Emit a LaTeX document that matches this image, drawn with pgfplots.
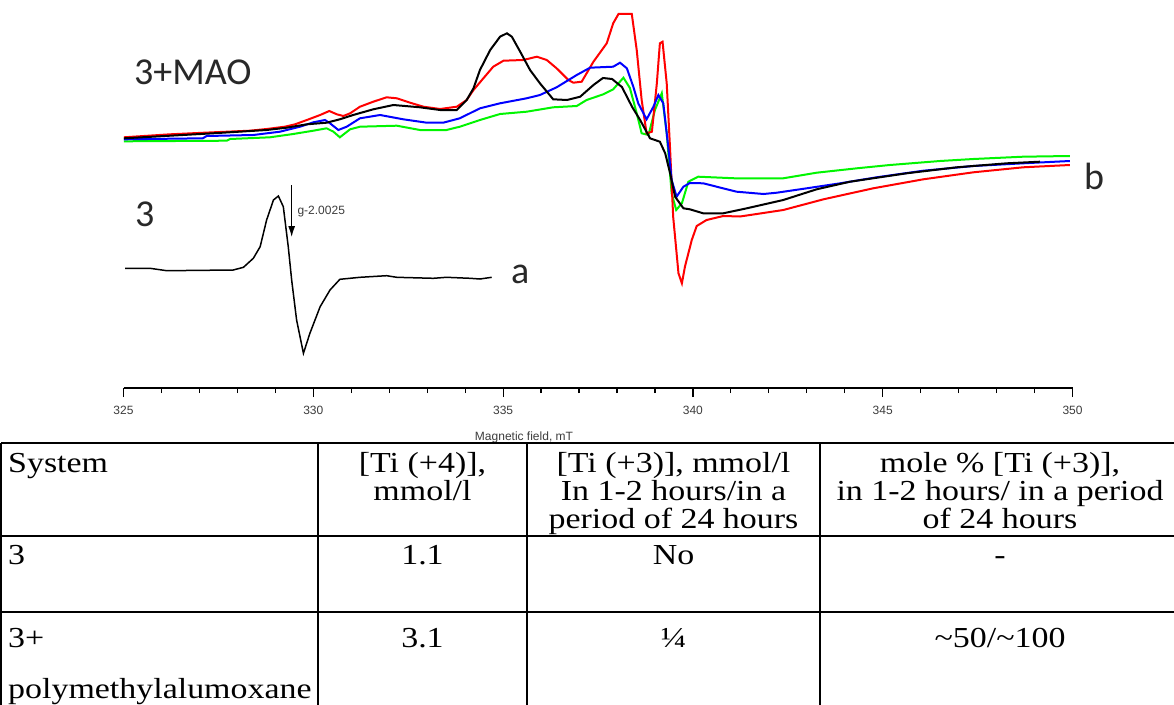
\documentclass[border=0pt]{standalone}
\usepackage{pgfplots}
\pgfplotsset{compat=1.18}
\usepackage{fontspec}
\setmainfont{Liberation Sans}
\newfontfamily\lblfont{Carlito}
\newfontfamily\tabfont[FakeStretch=1.17]{Liberation Serif}
\usetikzlibrary{arrows.meta}
\definecolor{eprred}{RGB}{255,0,0}
\definecolor{eprblue}{RGB}{0,0,255}
\definecolor{eprgreen}{RGB}{0,245,0}
\definecolor{lblgray}{RGB}{40,40,40}
\definecolor{tickgray}{RGB}{60,60,60}
\begin{document}
\begin{tikzpicture}
\useasboundingbox (0pt,0pt) rectangle (1174pt,-704pt);
\begin{axis}[
  at={(123.5pt,-388pt)}, anchor=south west,
  scale only axis, width=949pt, height=388pt,
  xmin=325, xmax=350, ymin=0, ymax=388,
  axis x line=bottom, axis y line=none,
  axis line style={-, line width=1.5pt},
  xtick={325,330,...,350}, minor x tick num=4,
  tick align=outside,
  major tick length=9pt, minor tick length=5pt,
  every tick/.style={black, line width=1.2pt},
  xticklabel style={font=\fontsize{12}{14}\selectfont, text=tickgray, yshift=-6pt},
  /pgf/number format/assume math mode=true,
  clip=false,
]
% spectrum b: green
\addplot[eprgreen, line width=2pt] coordinates {
(325.01,246.7) (327.72,247.3) (327.81,249) (328.86,250.7) (329.47,254) (330.00,257.3)
(330.35,259.7) (330.53,256.3) (330.70,250.7) (330.97,258.7) (331.23,261.3) (332.20,262.3)
(332.81,258) (333.51,258) (333.86,261.3) (334.39,268) (334.92,274) (335.62,276.3)
(336.32,280.7) (336.94,282) (337.20,288) (337.64,293.7) (337.90,298.7) (338.17,310.3)
(338.34,300) (338.52,274.7) (338.65,254.7) (338.83,253) (339.00,278) (339.18,294.7)
(339.31,254.7) (339.44,194.7) (339.56,178) (339.71,184.7) (339.88,206.3) (340.14,211.3)
(341.11,209.7) (342.38,209.7) (343.26,215.3) (344.32,219.7) (345.19,223) (346.51,227)
(347.39,229) (348.70,231.3) (349.93,232)
};
% spectrum b: red
\addplot[eprred, line width=2pt] coordinates {
(325.01,250.7) (326.23,253.7) (327.36,255.7) (328.33,257.3) (328.77,259) (329.25,261.3)
(329.52,263.7) (329.83,268) (330.18,273) (330.42,277) (330.62,273.7) (330.79,272)
(330.97,274.7) (331.23,281.3) (331.58,286.3) (331.93,290.7) (332.20,289.7) (332.55,285.3)
(332.90,281.3) (333.34,279) (333.78,281.3) (334.04,288) (334.22,298) (334.48,309.7)
(334.74,321.3) (335.01,327.3) (335.53,328) (335.89,331.3) (336.15,328) (336.41,319.7)
(336.72,308) (336.85,305.3) (337.07,306.3) (337.20,314.7) (337.38,326.3) (337.73,344.7)
(337.90,364.7) (338.04,374) (338.39,374) (338.52,338) (338.65,288) (338.78,254.7)
(338.92,256.3) (339.05,304.7) (339.13,344.7) (339.20,346.3) (339.31,304.7) (339.40,238)
(339.48,171.3) (339.62,114.7) (339.71,104.7) (339.79,121.3) (339.97,148) (340.10,162)
(340.36,168) (340.80,172) (341.24,171.5) (341.68,174) (342.38,178) (343.44,188.7)
(344.75,199.7) (346.07,208.7) (347.39,215.7) (348.70,220.7) (349.93,223)
};
% spectrum b: blue
\addplot[eprblue, line width=2pt] coordinates {
(325.01,248.7) (327.09,249.7) (327.19,252) (328.42,253) (329.12,256.3) (329.65,261.3)
(330.00,265.7) (330.31,268) (330.44,264.7) (330.66,258) (330.88,261.3) (331.23,269.7)
(331.76,273) (332.37,268.7) (332.99,265.3) (333.42,265.3) (333.86,269.7) (334.39,279.7)
(334.92,284.7) (335.62,289.7) (335.97,293) (336.41,300.7) (336.94,313) (337.29,320.3)
(337.90,321.3) (338.08,325.3) (338.26,319.7) (338.43,301.3) (338.56,284.7) (338.78,268.7)
(338.96,281.3) (339.09,293) (339.22,284.7) (339.35,241.3) (339.44,208) (339.57,191.3)
(339.75,201.3) (339.92,205) (340.27,204.7) (341.15,196.3) (341.86,194) (342.21,195.3)
(343.00,199.7) (343.88,204.7) (344.84,210.7) (346.07,217.3) (347.39,222) (348.70,224.7)
(349.93,227)
};
% spectrum b: black
\addplot[black, line width=2pt] coordinates {
(325.01,249.7) (327.36,254.7) (328.77,258) (329.30,260.3) (329.83,263.7) (330.35,265.3)
(330.70,268.7) (331.05,273) (331.58,278.7) (332.11,283) (332.81,280.7) (333.34,278)
(333.78,278) (334.04,288) (334.22,299.7) (334.39,318) (334.66,338) (334.92,351.3)
(335.10,354.7) (335.23,351.3) (335.45,336.3) (335.71,318) (335.97,304.7) (336.32,288.7)
(336.68,288) (337.03,291.3) (337.38,303) (337.63,310) (337.87,309) (338.13,301)
(338.40,281) (338.61,268) (338.87,249.7) (339.13,246.3) (339.27,234.7) (339.40,214.7)
(339.53,191.3) (339.75,179.7) (339.92,178.7) (340.27,174.7) (340.80,174.7) (341.42,179.7)
(342.38,188) (343.26,198.7) (344.14,206.3) (345.63,214.7) (346.95,220.7) (348.27,224.7)
(349.14,226.3)
};
% spectrum a
\addplot[black, line width=1.5pt] coordinates {
(325.04,119.7) (325.70,119.7) (326.14,117.3) (327.89,118) (328.16,120.7) (328.42,129.7)
(328.60,141.3) (328.77,168) (328.95,188) (329.08,192) (329.21,181.3) (329.34,141.3)
(329.43,108) (329.56,68) (329.74,34.7) (329.91,54.7) (330.18,81.3) (330.44,98)
(330.70,108.7) (331.23,110.7) (331.93,112.3) (332.20,110.7) (333.16,109.7) (333.51,110.7)
(334.13,109.7) (334.39,109) (334.70,110.7)
};
\draw[black, line width=1.2pt, -{Latex[length=11pt,width=7pt]}] (axis cs:329.43,203) -- (axis cs:329.43,151);
\node[anchor=west, font=\fontsize{12}{14}\selectfont, text=tickgray, inner sep=0pt] at (axis cs:329.58,176) {g-2.0025};
\end{axis}
% labels of the plot
\node[anchor=base west, inner sep=0pt, font=\lblfont\fontsize{38}{42}\selectfont, text=lblgray] at (134pt,-84pt) {3+MAO};
\node[anchor=base west, inner sep=0pt, font=\lblfont\fontsize{38}{42}\selectfont, text=lblgray] at (135pt,-226pt) {3};
\node[anchor=base west, inner sep=0pt, font=\lblfont\fontsize{38}{42}\selectfont, text=lblgray] at (511pt,-283pt) {a};
\node[anchor=base west, inner sep=0pt, font=\lblfont\fontsize{38}{42}\selectfont, text=lblgray] at (1084pt,-189pt) {b};
\node[font=\fontsize{12}{14}\selectfont, text=tickgray, inner sep=0pt] at (524pt,-437pt) {Magnetic field, mT};
% table
\begin{scope}[x=1pt, y=-1pt]
\draw[line width=1.5pt] (1,443) -- (1185,443);
\draw[line width=1.5pt] (1,536) -- (1185,536);
\draw[line width=1.5pt] (1,612) -- (1185,612);
\foreach \cx in {1,318,527,820} \draw[line width=1.5pt] (\cx,443) -- (\cx,710);
\tikzset{tt/.style={inner sep=0pt, font=\tabfont\fontsize{29}{32}\selectfont}}
\node[tt, anchor=base west] at (8,472) {System};
\node[tt, anchor=base] at (422.5,472) {[Ti (+4)],};
\node[tt, anchor=base] at (422.5,500) {mmol/l};
\node[tt, anchor=base] at (673.5,472) {[Ti (+3)], mmol/l};
\node[tt, anchor=base] at (673.5,500) {In 1-2 hours/in a};
\node[tt, anchor=base] at (673.5,528) {period of 24 hours};
\node[tt, anchor=base] at (1000,472) {mole \% [Ti (+3)],};
\node[tt, anchor=base] at (1000,500) {in 1-2 hours/ in a period};
\node[tt, anchor=base] at (1000,528) {of 24 hours};
\node[tt, anchor=base west] at (8,564) {3};
\node[tt, anchor=base] at (422.5,564) {1.1};
\node[tt, anchor=base] at (673.5,564) {No};
\node[tt, anchor=base] at (1000,564) {-};
\node[tt, anchor=base west] at (8,647) {3+};
\node[tt, anchor=base west] at (8,698) {polymethylalumoxane};
\node[tt, anchor=base] at (422.5,647) {3.1};
\node[tt, anchor=base] at (673.5,647) {¼};
\node[tt, anchor=base] at (1000,647) {\textasciitilde 50/\textasciitilde 100};
\end{scope}
\end{tikzpicture}
\end{document}
